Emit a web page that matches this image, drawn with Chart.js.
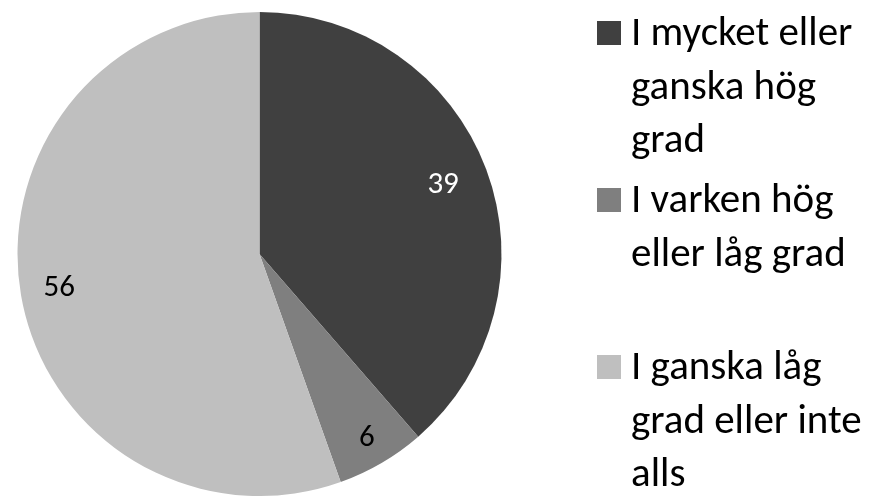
<!DOCTYPE html>
<html>
<head>
<meta charset="utf-8">
<script src="https://cdn.jsdelivr.net/npm/chart.js@4"></script>
<style>
  html, body { margin: 0; padding: 0; background: #fff; }
  #wrap { width: 877px; height: 496px; position: relative; }
</style>
</head>
<body>
<div id="wrap"><canvas id="pie" width="877" height="496"></canvas></div>
<script>
// data
const categories = ['I mycket eller ganska hög grad', 'I varken hög eller låg grad', 'I ganska låg grad eller inte alls'];
const legendLines = [
  ['I mycket eller', 'ganska hög', 'grad'],
  ['I varken hög', 'eller låg grad'],
  ['I ganska låg', 'grad eller inte', 'alls']
];
const values = [39, 6, 56];
const colors = ['#404040', '#7f7f7f', '#bfbfbf'];
const labelColors = ['#ffffff', '#000000', '#000000'];
// how far out along the radius each value label sits (excel "best fit")
const labelRadius = [0.81, 0.88, 0.84];

const FONT = 'Carlito, "Open Sans", sans-serif';

// value labels inside the slices
const sliceLabels = {
  id: 'sliceLabels',
  afterDatasetsDraw(chart) {
    const ctx = chart.ctx;
    const meta = chart.getDatasetMeta(0);
    ctx.save();
    ctx.font = '31px ' + FONT;
    ctx.textAlign = 'center';
    ctx.textBaseline = 'middle';
    meta.data.forEach((arc, i) => {
      const p = arc.getProps(['x', 'y', 'startAngle', 'endAngle', 'outerRadius'], true);
      const mid = (p.startAngle + p.endAngle) / 2;
      const r = p.outerRadius * labelRadius[i];
      ctx.fillStyle = labelColors[i];
      ctx.fillText(String(values[i]), p.x + Math.cos(mid) * r, p.y + Math.sin(mid) * r);
    });
    ctx.restore();
  }
};

// legend on the right, wrapped lines
const sideLegend = {
  id: 'sideLegend',
  afterDraw(chart) {
    const ctx = chart.ctx;
    ctx.save();
    ctx.font = '41px ' + FONT;
    ctx.textBaseline = 'alphabetic';
    ctx.textAlign = 'left';
    legendLines.forEach((lines, i) => {
      const base = 45 + i * 167;
      ctx.fillStyle = colors[i];
      ctx.fillRect(597, base - 24, 24, 24);
      ctx.fillStyle = '#000';
      lines.forEach((t, j) => {
        ctx.fillText(t, 631, base + j * 53.5);
      });
    });
    ctx.restore();
  }
};

new Chart(document.getElementById('pie'), {
  type: 'pie',
  data: {
    labels: categories,
    datasets: [{
      data: values,
      backgroundColor: colors,
      borderWidth: 0
    }]
  },
  options: {
    responsive: false,
    animation: false,
    layout: { padding: { left: 17.5, right: 375.5, top: 12, bottom: 0 } },
    plugins: {
      legend: { display: false },
      tooltip: { enabled: false }
    }
  },
  plugins: [sliceLabels, sideLegend]
});
</script>
</body>
</html>
